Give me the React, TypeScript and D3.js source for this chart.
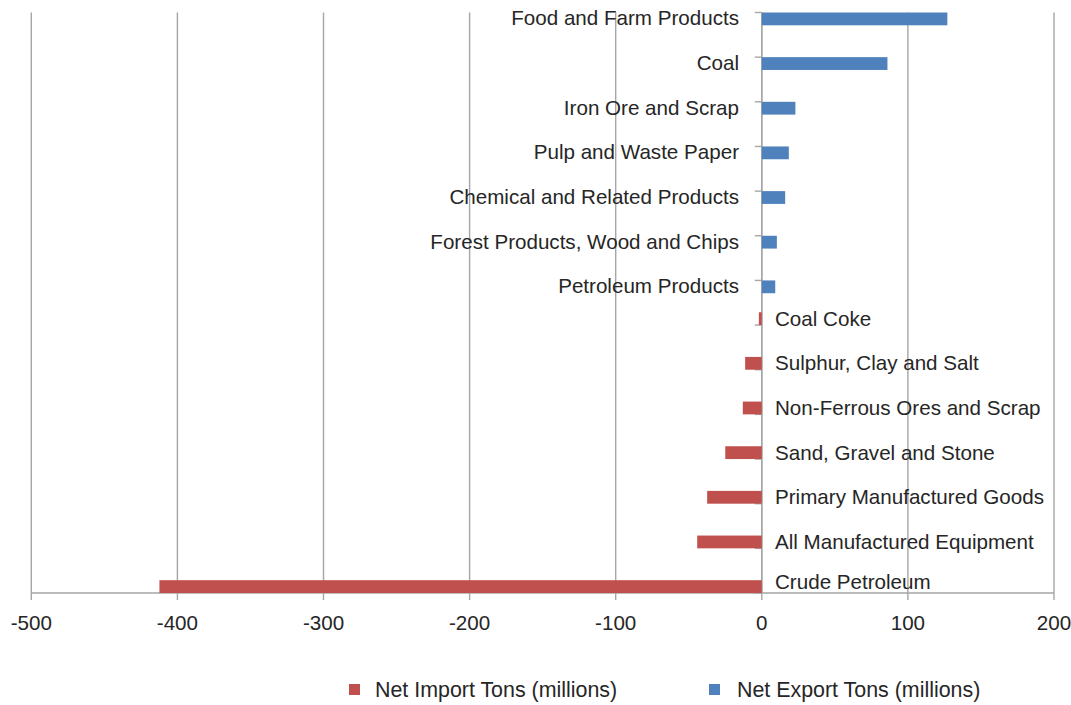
import React from "react";
import * as d3 from "d3";

const exportCategories = [
  "Food and Farm Products",
  "Coal",
  "Iron Ore and Scrap",
  "Pulp and Waste Paper",
  "Chemical and Related Products",
  "Forest Products, Wood and Chips",
  "Petroleum Products",
];
const exportValues = [127, 86, 23, 18.5, 16, 10.3, 9.2];

const importCategories = [
  "Coal Coke",
  "Sulphur, Clay and Salt",
  "Non-Ferrous Ores and Scrap",
  "Sand, Gravel and Stone",
  "Primary Manufactured Goods",
  "All Manufactured Equipment",
  "Crude Petroleum",
];
const importValues = [-2, -11.4, -13, -25, -37.4, -44.2, -412.3];

const xTicks = [-500, -400, -300, -200, -100, 0, 100, 200];
const seriesNames = ["Net Import Tons (millions)", "Net Export Tons (millions)"];

const BLUE = "#4F81BD";
const RED = "#C0504D";
const GRID = "#a6a6a6";
const TEXT = "#262626";
const FONT = "'Liberation Sans', Arial, sans-serif";

export default function App() {
  const W = 1071;
  const H = 705;
  const top = 12.5;
  const bottom = 593;
  const nRows = exportCategories.length + importCategories.length - 1;
  const x = d3.scaleLinear().domain([-500, 200]).range([31.3, 1054]);
  const y = d3.scaleBand<number>().domain(d3.range(nRows)).range([top, bottom]).padding(0);
  const bw = y.bandwidth();
  const barH = 12.8;
  const x0 = x(0);
  const fs = 20.6;
  const legendFs = 21.4;

  const exportRows = exportCategories.map((c, i) => ({ c, v: exportValues[i], row: i }));
  const importRows = importCategories.map((c, i) => ({
    c,
    v: importValues[i],
    row: exportCategories.length - 1 + i,
  }));

  const boundaries = d3.range(nRows + 1).map((i) => top + i * bw);

  return (
    <svg
      width={W}
      height={H}
      style={{ position: "absolute", left: 0, top: 0, background: "#fff" }}
      fontFamily={FONT}
    >
      {/* gridlines */}
      {xTicks.map((t) => (
        <line key={"g" + t} x1={x(t)} x2={x(t)} y1={top} y2={bottom + 7} stroke={GRID} strokeWidth={1.4} />
      ))}
      {/* bottom axis */}
      <line x1={x(-500)} x2={x(200)} y1={bottom} y2={bottom} stroke={GRID} strokeWidth={1.4} />
      {xTicks.map((t) => (
        <text key={"t" + t} x={x(t)} y={630} textAnchor="middle" fontSize={fs} fill={TEXT}>
          {t}
        </text>
      ))}
      {/* vertical axis at zero with ticks */}
      <line x1={x0} x2={x0} y1={top} y2={bottom} stroke={GRID} strokeWidth={1.4} />
      {boundaries.map((b, i) => (
        <line key={"vt" + i} x1={x0 - 7} x2={x0} y1={b} y2={b} stroke={GRID} strokeWidth={1.4} />
      ))}
      {/* export bars */}
      {exportRows.map((d) => (
        <g key={"e" + d.c}>
          <rect x={x0} y={y(d.row)!} width={x(d.v) - x0} height={barH} fill={BLUE} />
          <text
            x={739}
            y={y(d.row)! + barH / 2 - 0.5}
            dy="0.34em"
            textAnchor="end"
            fontSize={fs}
            fill={TEXT}
          >
            {d.c}
          </text>
        </g>
      ))}
      {/* import bars */}
      {importRows.map((d) => (
        <g key={"i" + d.c}>
          <rect x={x(d.v)} y={y(d.row)! + bw - barH} width={x0 - x(d.v)} height={barH} fill={RED} />
          <text
            x={775}
            y={Math.min(y(d.row)! + bw - barH / 2, bottom - 11)}
            dy="0.34em"
            textAnchor="start"
            fontSize={fs}
            fill={TEXT}
          >
            {d.c}
          </text>
        </g>
      ))}
      {/* legend */}
      <rect x={349} y={684} width={11} height={11} fill={RED} />
      <text x={375} y={697} fontSize={legendFs} fill={TEXT}>
        {seriesNames[0]}
      </text>
      <rect x={709} y={684} width={11} height={11} fill={BLUE} />
      <text x={737} y={697} fontSize={legendFs} fill={TEXT}>
        {seriesNames[1]}
      </text>
    </svg>
  );
}
